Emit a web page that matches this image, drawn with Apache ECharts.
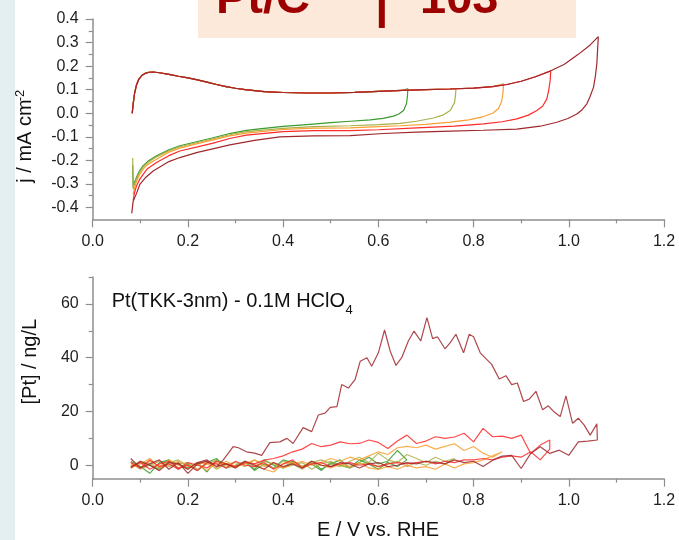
<!DOCTYPE html>
<html>
<head>
<meta charset="utf-8">
<script src="https://cdn.jsdelivr.net/npm/echarts@6/dist/echarts.min.js"></script>
<style>
html,body{margin:0;padding:0;background:#fff;}
#chart{width:679px;height:540px;}
</style>
</head>
<body>
<div id="chart"></div>
<script>
// ---------- DATA ----------
const X_TICKS = [0, 0.2, 0.4, 0.6, 0.8, 1.0, 1.2];
const TOP_Y_MAJOR = [-0.4, -0.3, -0.2, -0.1, 0.0, 0.1, 0.2, 0.3, 0.4];
const TOP_Y_MINOR = [-0.35, -0.25, -0.15, -0.05, 0.05, 0.15, 0.25, 0.35];
const BOT_Y_MAJOR = [0, 20, 40, 60];
const BOT_Y_MINOR = [10, 30, 50, 70];

const CYCLE_NAMES = ['0.66 V', '0.76 V', '0.86 V', '0.96 V', '1.06 V'];
const CYCLE_COLORS = ['#3a9b2e', '#a9b04a', '#f8a030', '#ff2a2a', '#a0282d'];

// CV: common anodic sweep (E / V, j / mA cm-2)
const CV_ANODIC_E = [0.083, 0.085, 0.088, 0.092, 0.097, 0.103, 0.110, 0.118, 0.127, 0.140, 0.160, 0.180, 0.200, 0.220, 0.240, 0.260, 0.280, 0.300, 0.320, 0.340, 0.360, 0.380, 0.400, 0.450, 0.500, 0.550, 0.600, 0.650, 0.700, 0.750, 0.800, 0.840, 0.870, 0.900, 0.930, 0.960, 0.990, 1.020, 1.045];
const CV_ANODIC_J = [0.000, 0.040, 0.085, 0.120, 0.145, 0.160, 0.169, 0.174, 0.175, 0.172, 0.165, 0.157, 0.150, 0.142, 0.132, 0.122, 0.113, 0.106, 0.100, 0.096, 0.092, 0.090, 0.088, 0.086, 0.086, 0.089, 0.093, 0.097, 0.100, 0.103, 0.107, 0.113, 0.122, 0.136, 0.155, 0.178, 0.207, 0.250, 0.290];
const CV_VERTEX = [[0.662, 0.104], [0.763, 0.104], [0.863, 0.125], [0.962, 0.180], [1.062, 0.325]];

const CV_CATH_GREEN = [[0.661,0.070],[0.659,0.040],[0.653,0.012],[0.643,-0.003],[0.632,-0.012],[0.610,-0.022],[0.583,-0.028],[0.541,-0.034],[0.500,-0.040],[0.463,-0.046],[0.400,-0.056],[0.350,-0.066],[0.323,-0.073],[0.290,-0.085],[0.253,-0.104],[0.220,-0.120],[0.183,-0.138],[0.160,-0.155],[0.134,-0.180],[0.115,-0.205],[0.106,-0.222],[0.098,-0.245],[0.092,-0.272],[0.088,-0.292],[0.085,-0.312],[0.084,-0.220]];
const CV_CATH_OLIVE = [[0.762,0.075],[0.760,0.045],[0.751,0.012],[0.735,-0.008],[0.716,-0.020],[0.680,-0.034],[0.646,-0.043],[0.600,-0.048],[0.541,-0.053],[0.463,-0.057],[0.400,-0.064],[0.323,-0.078],[0.290,-0.090],[0.253,-0.108],[0.220,-0.124],[0.183,-0.142],[0.160,-0.159],[0.134,-0.185],[0.115,-0.210],[0.106,-0.228],[0.098,-0.252],[0.092,-0.280],[0.088,-0.300],[0.085,-0.322],[0.084,-0.190]];
const CV_CATH_ORANGE = [[0.862,0.090],[0.859,0.050],[0.852,0.019],[0.840,0.000],[0.821,-0.014],[0.790,-0.028],[0.751,-0.038],[0.700,-0.047],[0.646,-0.053],[0.600,-0.057],[0.541,-0.062],[0.463,-0.063],[0.400,-0.069],[0.323,-0.084],[0.290,-0.095],[0.253,-0.113],[0.220,-0.129],[0.183,-0.148],[0.160,-0.165],[0.134,-0.195],[0.115,-0.218],[0.106,-0.237],[0.098,-0.262],[0.092,-0.290],[0.088,-0.315],[0.085,-0.345]];
const CV_CATH_RED = [[0.961,0.140],[0.958,0.100],[0.954,0.061],[0.945,0.030],[0.933,0.012],[0.915,-0.008],[0.891,-0.024],[0.860,-0.036],[0.821,-0.045],[0.760,-0.055],[0.681,-0.062],[0.600,-0.070],[0.541,-0.074],[0.463,-0.074],[0.400,-0.078],[0.323,-0.093],[0.290,-0.106],[0.253,-0.127],[0.220,-0.143],[0.183,-0.160],[0.160,-0.180],[0.134,-0.209],[0.115,-0.235],[0.106,-0.259],[0.098,-0.283],[0.092,-0.309],[0.088,-0.335],[0.085,-0.370]];
const CV_CATH_DARKRED = [[1.060,0.250],[1.059,0.211],[1.056,0.160],[1.052,0.111],[1.045,0.072],[1.038,0.040],[1.028,0.015],[1.017,-0.003],[0.998,-0.022],[0.975,-0.038],[0.940,-0.055],[0.891,-0.067],[0.820,-0.072],[0.751,-0.076],[0.680,-0.080],[0.611,-0.086],[0.541,-0.095],[0.463,-0.096],[0.393,-0.100],[0.340,-0.115],[0.288,-0.134],[0.250,-0.152],[0.220,-0.166],[0.183,-0.188],[0.160,-0.205],[0.127,-0.245],[0.110,-0.275],[0.099,-0.302],[0.092,-0.340],[0.085,-0.373],[0.082,-0.425]];

// ICP-MS: [Pt] / ng/L on a shared potential grid (ascending E)
const PT_E = [0.08,0.10,0.12,0.14,0.16,0.18,0.20,0.22,0.24,0.26,0.28,0.30,0.32,0.34,0.36,0.38,0.40,0.42,0.44,0.46,0.48,0.50,0.52,0.54,0.56,0.58,0.60,0.62,0.64,0.66,0.68,0.70,0.72,0.74,0.76,0.78,0.80,0.82,0.84,0.86,0.88,0.90,0.92,0.94,0.96,0.98,1.00,1.02,1.04,1.06];

const PT_GREEN_UP   = [1.5,-0.5,-3.0,1.0,2.0,-1.5,0.5,-2.0,1.0,2.5,-1.0,0.0,1.5,-2.0,0.5,-1.0,2.0,1.0,-0.5,1.5,-1.5,0.5,2.0,-1.0,1.0,3.0,0.5,1.5,5.5,2.0];
const PT_GREEN_DOWN = [-0.5,1.0,0.0,-1.5,1.5,0.5,-1.0,1.0,-2.5,2.0,0.5,-0.5,1.0,-1.5,2.0,0.0,-1.0,1.5,-0.5,0.5,-2.0,1.0,0.0,-1.0,2.0,0.5,-1.5,1.0,-0.5,2.0];
const PT_OLIVE_UP   = [-0.5,1.5,0.5,-1.0,1.0,2.0,-0.5,0.0,1.5,-1.5,0.5,1.0,-0.5,2.0,0.0,-1.0,1.5,0.5,-1.5,1.0,2.0,0.5,-0.5,1.5,3.0,1.0,4.5,2.0,1.0,4.0,2.5,1.0,3.0,1.5,2.5];
const PT_OLIVE_DOWN = [1.0,-1.5,0.0,1.5,-0.5,0.5,1.0,-1.5,0.5,2.0,-1.0,0.0,1.0,-0.5,1.5,0.5,-1.0,0.0,1.0,-1.5,0.5,1.5,0.0,-1.0,0.5,1.0,-0.5,0.5,1.5,-0.5,1.0,0.0,1.5,0.5,2.5];
const PT_ORANGE_UP   = [0.5,-1.0,1.5,-0.5,2.0,0.0,-1.5,1.0,0.5,-1.0,1.5,-0.5,0.5,2.0,-0.5,1.0,-1.0,0.5,1.5,0.0,1.0,2.5,1.5,3.0,2.0,3.5,5.0,4.0,6.5,7.0,6.5,7.5,6.0,7.0,8.0,5.5,7.0,4.5,3.0,5.0];
const PT_ORANGE_DOWN = [-1.0,0.5,2.5,-1.0,0.0,1.5,-0.5,0.5,-2.0,1.0,0.0,-1.0,1.5,0.5,-1.5,-2.5,0.5,1.0,-0.5,1.5,0.0,-1.0,0.5,-0.5,1.0,-1.0,-1.5,-0.5,-1.5,0.0,-1.0,-0.5,-1.5,0.5,-1.0,0.5,1.0,2.0,3.5,5.0];
const PT_RED_UP   = [1.0,-1.0,2.0,-0.5,0.5,-1.5,1.0,0.0,-1.0,1.5,0.5,-0.5,1.0,0.5,1.9,2.5,3.5,5.0,6.0,8.1,6.9,7.5,8.7,8.0,8.1,9.4,8.5,6.2,9.0,11.2,8.1,9.0,10.6,10.0,10.5,11.9,8.7,13.7,10.6,10.8,10.0,11.2,4.4,7.5,9.4];
const PT_RED_DOWN = [-0.5,1.0,-1.5,0.5,1.5,-1.0,0.0,-2.0,1.0,0.5,-1.0,1.5,0.0,-0.5,1.0,-1.5,0.5,2.0,-1.0,0.5,1.0,-0.5,0.5,1.0,0.0,0.5,-0.5,0.5,1.0,0.5,1.0,1.5,0.5,1.5,1.0,2.0,2.0,2.5,2.0,3.0,3.5,3.0,5.0,2.0,6.0];
const PT_DARKRED_UP_E = [0.08,0.10,0.12,0.14,0.16,0.18,0.20,0.22,0.24,0.26,0.274,0.295,0.306,0.323,0.340,0.355,0.372,0.393,0.408,0.421,0.442,0.460,0.474,0.488,0.499,0.513,0.523,0.537,0.551,0.562,0.576,0.586,0.600,0.613,0.625,0.637,0.649,0.663,0.675,0.689,0.702,0.714,0.724,0.740,0.751,0.763,0.779,0.791,0.800,0.814,0.828,0.838,0.854,0.868,0.880,0.892,0.905,0.917,0.931,0.945,0.957,0.968,0.982,0.994,1.008,1.020,1.032,1.045,1.059];
const PT_DARKRED_UP_V = [2.5,-1.0,0.5,2.0,-1.5,1.0,-3.0,0.5,1.5,-0.5,1.9,6.9,6.5,5.0,4.5,3.7,8.4,8.7,10.0,8.1,14.0,12.5,18.7,19.4,21.5,21.8,30.0,28.7,31.8,38.7,40.0,36.8,41.8,50.3,42.4,37.1,40.0,46.2,49.9,46.2,54.9,47.1,47.8,43.3,45.6,48.7,41.8,48.7,47.8,41.8,39.3,37.5,32.1,33.3,30.0,30.6,23.7,24.6,27.5,20.6,22.1,20.0,18.1,25.8,15.6,17.5,15.0,11.2,15.4];
const PT_DARKRED_DOWN = [-1.0,1.5,0.0,-2.0,1.0,0.5,-1.5,1.0,2.0,-0.5,0.5,-1.0,1.5,0.0,-1.5,1.0,-0.5,0.5,-1.0,1.5,0.0,-0.5,1.0,0.5,-1.0,0.5,1.0,-0.5,0.0,1.0,0.5,1.5,1.0,0.5,2.0,1.0,1.5,-0.5,1.9,3.4,3.7,-1.2,4.4,6.9,4.4,5.6,3.7,8.7,9.0,9.4];

// ---------- BUILD ----------
const FONT = "'Liberation Sans', Arial, Helvetica, sans-serif";
const AXIS_COLOR = '#8e8e8e';
const LABEL_COLOR = '#1e1e1e';

const cvAnodic = CV_ANODIC_E.map((e, i) => [e, CV_ANODIC_J[i]]);
const cvCath = [CV_CATH_GREEN, CV_CATH_OLIVE, CV_CATH_ORANGE, CV_CATH_RED, CV_CATH_DARKRED];
function cvLoop(k) {
  const v = CV_VERTEX[k];
  return cvAnodic.filter(p => p[0] < v[0] - 0.004).concat([v], cvCath[k]);
}
function ptLoop(up, down) {
  const a = up.map((v, i) => [PT_E[i], v]);
  const b = down.map((v, i) => [PT_E[i], v]).reverse();
  return a.concat(b);
}
const ptLoops = [
  ptLoop(PT_GREEN_UP, PT_GREEN_DOWN),
  ptLoop(PT_OLIVE_UP, PT_OLIVE_DOWN),
  ptLoop(PT_ORANGE_UP, PT_ORANGE_DOWN),
  ptLoop(PT_RED_UP, PT_RED_DOWN),
  PT_DARKRED_UP_E.map((e, i) => [e, PT_DARKRED_UP_V[i]])
    .concat(PT_DARKRED_DOWN.map((v, i) => [PT_E[i], v]).reverse())
];

const series = [];
for (let k = 0; k < 5; k++) {
  series.push({
    name: CYCLE_NAMES[k], type: 'line', xAxisIndex: 0, yAxisIndex: 0,
    data: cvLoop(k), showSymbol: false, symbol: 'none',
    lineStyle: { color: CYCLE_COLORS[k], width: 1.2 }, z: 2 + k
  });
}
for (let k = 0; k < 5; k++) {
  series.push({
    name: CYCLE_NAMES[k], type: 'line', xAxisIndex: 1, yAxisIndex: 2,
    data: ptLoops[k], showSymbol: false, symbol: 'none',
    lineStyle: { color: CYCLE_COLORS[k], width: 1.2, opacity: 0.85 }, z: 2 + k
  });
}

function xAxisDef(gi) {
  return {
    type: 'value', gridIndex: gi, min: 0, max: 1.2, interval: 0.2,
    axisLine: { show: true, onZero: false, lineStyle: { color: AXIS_COLOR, width: 1.5 } },
    axisTick: { show: true, length: 8, lineStyle: { color: AXIS_COLOR, width: 1.2 } },
    minorTick: { show: true, splitNumber: 2, length: 4, lineStyle: { color: AXIS_COLOR, width: 1.2 } },
    axisLabel: { margin: 14, color: LABEL_COLOR, fontSize: 16, fontFamily: FONT,
      formatter: v => v.toFixed(1) },
    splitLine: { show: false }
  };
}
function yAxisDef(gi, min, max, major, minor, fmt) {
  return [{
    type: 'value', gridIndex: gi, position: 'left', min: min, max: max,
    axisLine: { show: true, onZero: false, lineStyle: { color: AXIS_COLOR, width: 1.5 } },
    axisTick: { show: true, length: 7, customValues: major, lineStyle: { color: AXIS_COLOR, width: 1.2 } },
    axisLabel: { margin: 14, color: LABEL_COLOR, fontSize: 16, fontFamily: FONT, customValues: major, formatter: fmt },
    splitLine: { show: false }
  }, {
    type: 'value', gridIndex: gi, position: 'left', offset: 0, min: min, max: max,
    axisLine: { show: false },
    axisTick: { show: true, length: 4, customValues: minor, lineStyle: { color: AXIS_COLOR, width: 1.2 } },
    axisLabel: { show: false },
    splitLine: { show: false }
  }];
}

const option = {
  animation: false,
  backgroundColor: '#ffffff',
  grid: [
    { left: 92.7, right: 15, top: 19, height: 200.3, outerBoundsMode: 'none' },
    { left: 92.7, right: 15, top: 277, height: 201.7, outerBoundsMode: 'none' }
  ],
  xAxis: [xAxisDef(0), xAxisDef(1)],
  yAxis: [].concat(
    yAxisDef(0, -0.45, 0.4, TOP_Y_MAJOR, TOP_Y_MINOR, v => v.toFixed(1)),
    yAxisDef(1, -5, 70, BOT_Y_MAJOR, BOT_Y_MINOR, v => String(Math.round(v)))
  ),
  series: series,
  graphic: [
    { type: 'rect', silent: true, shape: { x: 0, y: 0, width: 15, height: 540 }, style: { fill: '#e3eff1' } },
    { type: 'rect', silent: true, shape: { x: 198, y: 0, width: 378, height: 38 }, style: { fill: '#fde9d9' } },
    { type: 'text', silent: true, x: 216, y: 0.5, style: { text: 'Pt/C', fill: '#9c0000', font: 'bold 47px ' + FONT, align: 'left', verticalAlign: 'middle' } },
    { type: 'text', silent: true, x: 381.7, y: 5, style: { text: '|', fill: '#9c0000', font: 'bold 47px ' + FONT, align: 'center', verticalAlign: 'middle' } },
    { type: 'text', silent: true, x: 420, y: 0.5, style: { text: '103', fill: '#9c0000', font: 'bold 47px ' + FONT, align: 'left', verticalAlign: 'middle' } },
    { type: 'text', silent: true, x: 25, y: 141, rotation: Math.PI / 2, style: { text: 'j / mA cm', fill: '#111', font: '20px ' + FONT, align: 'center', verticalAlign: 'middle' } },
    { type: 'text', silent: true, x: 20, y: 95.5, rotation: Math.PI / 2, style: { text: '-2', fill: '#111', font: '13px ' + FONT, align: 'center', verticalAlign: 'middle' } },
    { type: 'text', silent: true, x: 30.5, y: 361.7, rotation: Math.PI / 2, style: { text: '[Pt] / ng/L', fill: '#111', font: '20px ' + FONT, align: 'center', verticalAlign: 'middle' } },
    { type: 'text', silent: true, x: 378, y: 530, style: { text: 'E / V vs. RHE', fill: '#111', font: '20px ' + FONT, align: 'center', verticalAlign: 'middle' } },
    { type: 'text', silent: true, x: 111.7, y: 301.4, style: { text: 'Pt(TKK-3nm) - 0.1M HClO', fill: '#111', font: '20px ' + FONT, align: 'left', verticalAlign: 'middle' } },
    { type: 'text', silent: true, x: 345.5, y: 310, style: { text: '4', fill: '#111', font: '13px ' + FONT, align: 'left', verticalAlign: 'middle' } }
  ]
};

const chart = echarts.init(document.getElementById('chart'), null, { renderer: 'canvas' });
chart.setOption(option);
</script>
</body>
</html>
